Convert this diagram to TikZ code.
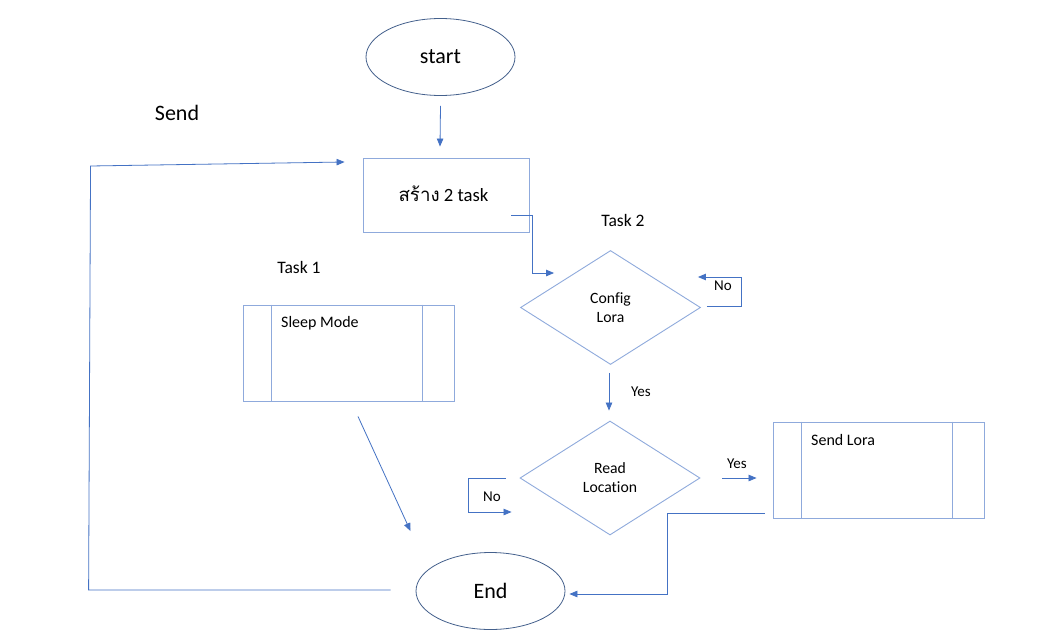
\documentclass[tikz,border=0pt]{standalone}
\usepackage{fontspec}
\setmainfont{Carlito}[Ligatures=NoCommon]
\newfontfamily\thaifont[Script=Thai]{Loma}
\usetikzlibrary{shapes.geometric,arrows.meta,calc}
\definecolor{shapeblue}{RGB}{143,170,220}
\definecolor{ovalblue}{RGB}{68,96,140}
\definecolor{linkblue}{RGB}{68,114,196}
\begin{document}
\begin{tikzpicture}[x=1pt,y=-1pt,
  terminal/.style={ellipse,draw=ovalblue,line width=0.8pt,minimum width=149pt,
    minimum height=77pt,inner sep=0pt,font=\fontsize{22}{26}\selectfont},
  procbox/.style={rectangle,draw=shapeblue,line width=0.9pt,inner sep=0pt},
  decision/.style={diamond,draw=shapeblue,line width=0.9pt,inner sep=0pt,
    minimum width=180pt,minimum height=114pt,align=center,
    font=\fontsize{15.7}{19}\selectfont},
  boxtext/.style={anchor=west,inner sep=0pt,font=\fontsize{16}{19}\selectfont},
  heading/.style={inner sep=0pt,font=\fontsize{17.5}{20}\selectfont},
  tag/.style={inner sep=0pt,font=\fontsize{15}{18}\selectfont},
  link/.style={draw=linkblue,line width=0.8pt},
  arr/.style={link,-{Triangle[length=8pt,width=6.5pt]}}]
\useasboundingbox[fill=white] (0,0) rectangle (1057,642);

% terminals
\node[terminal] (start) at (440.5,57) {start};
\node[terminal] (end) at (490.5,591) {End};

% task creation
\node[procbox,minimum width=166pt,minimum height=74pt] (create) at (446,195) {};
\node[inner sep=0pt,font=\fontsize{18.7}{22}\selectfont] (createtext) at (443.5,194)
  {{\thaifont สร้าง} 2 task};

% free labels
\node[inner sep=0pt,font=\fontsize{22}{26}\selectfont] (send) at (177,113) {Send};
\node[heading] (task2) at (623,220) {Task 2};
\node[heading] (task1) at (299,267) {Task 1};

% decisions
\node[decision] (config) at (610.5,307.5) {Config\\Lora};
\node[decision] (read) at (610,478) {Read\\Location};

% predefined processes
\node[procbox,minimum width=211pt,minimum height=96pt] (sleep) at (348.5,353) {};
\draw[shapeblue,line width=0.9pt] ($(sleep.north west)+(29,0)$) -- ($(sleep.south west)+(29,0)$)
  ($(sleep.north east)+(-32,0)$) -- ($(sleep.south east)+(-32,0)$);
\node[boxtext] (sleeptext) at (281,323) {Sleep Mode};

\node[procbox,minimum width=211pt,minimum height=96pt] (sendlora) at (878.5,470) {};
\draw[shapeblue,line width=0.9pt] ($(sendlora.north west)+(29,0)$) -- ($(sendlora.south west)+(29,0)$)
  ($(sendlora.north east)+(-32,0)$) -- ($(sendlora.south east)+(-32,0)$);
\node[boxtext] (sendloratext) at (811,440) {Send Lora};

% connectors
\draw[arr] ($(start.south)+(0,10)$) -- ($(create.north)+(-6,-11)$);
\draw[arr] ($(create.east)+(-18,20)$) -- ++(21,0) |- ($(config.west)+(34,-34.5)$);

\draw[arr] ($(config.east)+(6,-1.5)$) -- ++(34,0) |- ($(config.east)+(-3,-30.5)$);
\node[tag] (no1) at (723,286) {No};

\draw[arr] ($(config.south)+(-1.5,8)$) -- ($(read.north)+(-1,-10)$);
\node[tag] (yes1) at (641,392) {Yes};

\draw[arr] ($(read.west)+(-14,0)$) -- ++(-37,0) |- ($(read.west)+(-8,34)$);
\node[tag] (no2) at (492,497) {No};

\draw[arr] ($(read.east)+(22,0)$) -- ($(sendlora.west)+(-16,8)$);
\node[tag] (yes2) at (737,464) {Yes};

\draw[arr] ($(sendlora.south west)+(-8,-5)$) -| ($(end.east)+(102,3)$) -- ($(end.east)+(4,3)$);

\draw[arr] ($(sleep.south)+(9.5,15)$) -- ($(end.north)+(-80,-21)$);

\draw[arr] ($(end.west)+(-25,-1)$) -- ++(-302,0) -- ($(create.west)+(-272,-29)$)
  -- ($(create.west)+(-18,-33)$);
\end{tikzpicture}
\end{document}
